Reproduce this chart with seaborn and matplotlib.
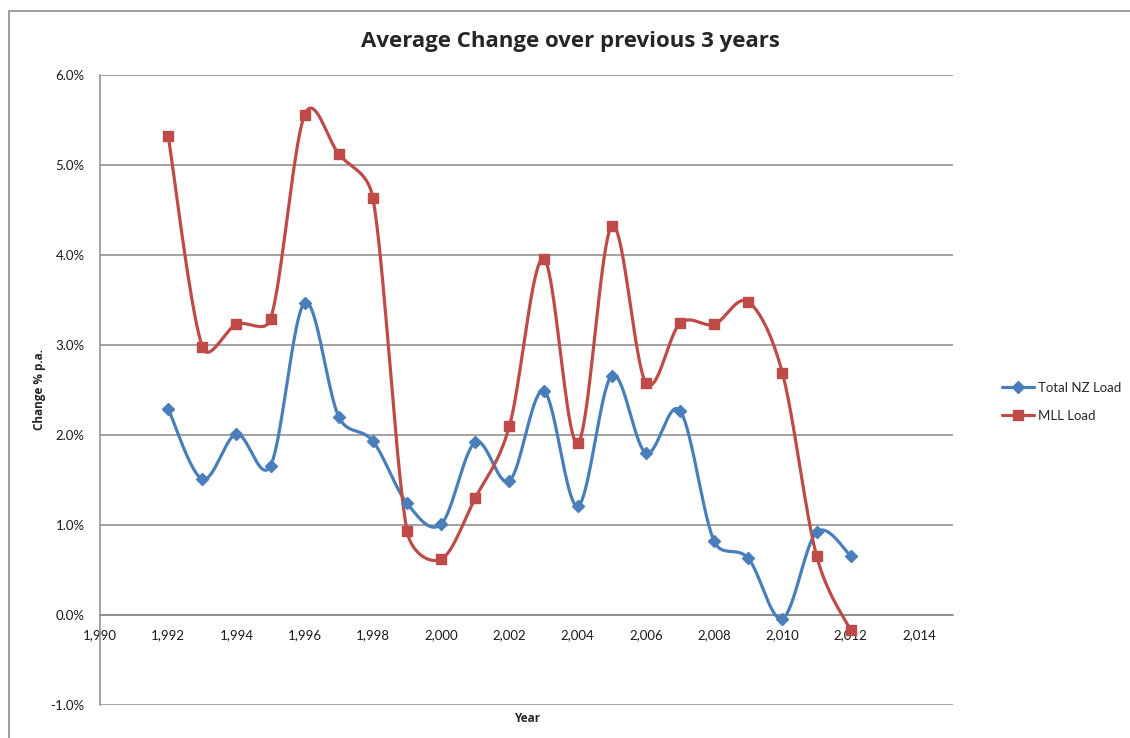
import numpy as np
import pandas as pd
import matplotlib
matplotlib.use("Agg")
import matplotlib.pyplot as plt
import seaborn as sns
from matplotlib.lines import Line2D
from matplotlib.patches import Rectangle
from matplotlib.ticker import FuncFormatter

# values (% p.a.)
years = list(range(1992, 2013))
total_nz = [2.29, 1.51, 2.01, 1.66, 3.47, 2.20, 1.93, 1.24, 1.01, 1.92, 1.49,
            2.49, 1.21, 2.66, 1.80, 2.27, 0.82, 0.63, -0.04, 0.92, 0.66]
mll = [5.32, 2.98, 3.23, 3.29, 5.56, 5.12, 4.63, 0.93, 0.62, 1.30, 2.10,
       3.96, 1.91, 4.32, 2.58, 3.24, 3.23, 3.48, 2.69, 0.66, -0.17]
series_names = ["Total NZ Load", "MLL Load"]
blue = "#4A7EBB"
red = "#BE4B48"


def smooth(x, y, n=40, kx=34.1, ky=90.0):
    # excel-like smoothed line in screen units (px per year, px per %):
    # catmull-rom arms (1/6 of neighbour chord), capped at half the segment
    P = np.column_stack([np.asarray(x, float) * kx, np.asarray(y, float) * ky])
    m = len(P)
    t = np.linspace(0, 1, n)[:, None]
    out = []
    for i in range(m - 1):
        p0, p3 = P[i], P[i + 1]
        seg = np.linalg.norm(p3 - p0)
        a1 = (p3 - P[max(i - 1, 0)]) / 6
        a2 = (P[min(i + 2, m - 1)] - p0) / 6
        if np.linalg.norm(a1) > seg / 2:
            a1 = a1 * (seg / 2) / np.linalg.norm(a1)
        if np.linalg.norm(a2) > seg / 2:
            a2 = a2 * (seg / 2) / np.linalg.norm(a2)
        c1 = p0 + a1
        c2 = p3 - a2
        pts = (1 - t) ** 3 * p0 + 3 * (1 - t) ** 2 * t * c1 + 3 * (1 - t) * t ** 2 * c2 + t ** 3 * p3
        out.append(pts)
    out = np.vstack(out)
    return out[:, 0] / kx, out[:, 1] / ky


sns.set_style("white")
plt.rcParams["font.family"] = ["Lato", "DejaVu Sans"]

fig = plt.figure(figsize=(11.3, 7.38), dpi=100)
ax = fig.add_axes([100 / 1130, 1 - 705 / 738, 853 / 1130, 630 / 738])

# chart area border
fig.patches.append(Rectangle((9 / 1130, -0.05), 1.2, 1 - 11 / 738 + 0.05,
                             transform=fig.transFigure, fill=False,
                             edgecolor="#8c8c8c", lw=1.2, zorder=0))

for vals, col, mk, ms in [(total_nz, blue, "D", 6), (mll, red, "s", 7)]:
    sx, sy = smooth(years, vals)
    sns.lineplot(x=sx, y=sy, sort=False, estimator=None, color=col, lw=2.3, ax=ax, zorder=3)
    ax.plot(years, vals, linestyle="none", marker=mk, markersize=ms,
            color=col, markeredgecolor=col, zorder=4)

ax.set_xlim(1990, 2015)
ax.set_ylim(-1, 6)
ax.set_xticks(range(1990, 2015, 2))
ax.set_yticks(range(-1, 7))
ax.xaxis.set_major_formatter(FuncFormatter(lambda v, p: f"{v:,.0f}"))
ax.yaxis.set_major_formatter(FuncFormatter(lambda v, p: f"{v:.1f}%"))
ax.grid(axis="y", color="#8a8a8a", lw=1.1)
ax.grid(axis="x", visible=False)
for s in ["top", "right"]:
    ax.spines[s].set_visible(False)
ax.spines["left"].set_color("#8a8a8a")
ax.spines["left"].set_linewidth(1.1)
ax.spines["bottom"].set_position(("data", 0))
ax.spines["bottom"].set_color("#8a8a8a")
ax.spines["bottom"].set_linewidth(1.1)
ax.tick_params(axis="x", length=0, pad=10, labelsize=9.5, colors="#1a1a1a")
ax.tick_params(axis="y", length=0, pad=11, labelsize=9.5, colors="#1a1a1a")
ax.set_xlabel("")
ax.set_ylabel("")

bold = ["Open Sans", "DejaVu Sans"]
fig.text(570 / 1130, 1 - 42 / 738, "Average Change over previous 3 years",
         ha="center", va="center", fontsize=16, fontweight="bold", family=bold)
fig.text(39 / 1130, 1 - 390 / 738, "Change % p.a.", rotation=90,
         ha="center", va="center", fontsize=8.5, fontweight="bold", family=bold)
fig.text(527 / 1130, 1 - 718 / 738, "Year", ha="center", va="center",
         fontsize=8.5, fontweight="bold", family=bold)

handles = [Line2D([0], [0], color=blue, lw=2.3, marker="D", markersize=6),
           Line2D([0], [0], color=red, lw=2.3, marker="s", markersize=7)]
fig.legend(handles, series_names, loc="center left",
           bbox_to_anchor=(990 / 1130, 1 - 402 / 738), frameon=False,
           fontsize=9.5, handlelength=2.4, handletextpad=0.3, labelspacing=1.2)

fig.savefig("out.png", dpi=100)
